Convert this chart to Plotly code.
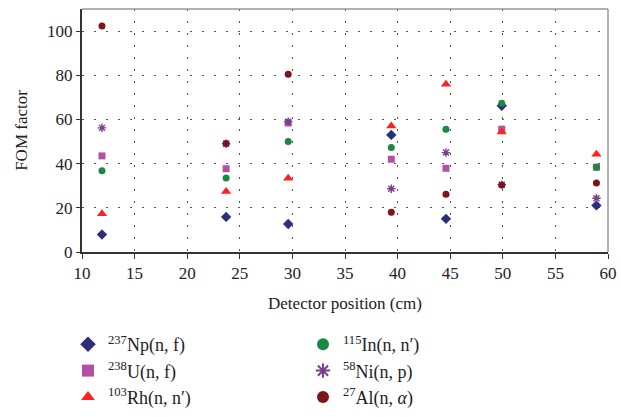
import plotly.graph_objects as go

positions = [11.9, 23.7, 29.6, 39.4, 44.6, 49.9, 58.9]

np237 = [7.9, 15.9, 12.7, 53.0, 15.0, 66.2, 21.1]
u238 = [43.5, 37.7, 58.4, 42.0, 37.9, 55.6, 38.4]
rh103 = [17.3, 27.4, 33.4, 57.0, 75.9, 54.3, 44.3]
in115 = [36.8, 33.5, 50.0, 47.3, 55.6, 67.3, 38.4]
ni58 = [56.2, 49.0, 59.0, 28.6, 45.0, 30.5, 24.3]
al27 = [102.3, 49.1, 80.5, 18.0, 26.1, 30.3, 31.2]

series = [
    ("<sup>237</sup>Np(n, f)", np237, "diamond", "#2B2F7A", 8, "legend"),
    ("<sup>238</sup>U(n, f)", u238, "square", "#B450A4", 7, "legend"),
    ("<sup>103</sup>Rh(n, n\u2032)", rh103, "triangle-up", "#FF2020", 9, "legend"),
    ("<sup>115</sup>In(n, n\u2032)", in115, "circle", "#1B8744", 7, "legend2"),
    ("<sup>58</sup>Ni(n, p)", ni58, "asterisk-open", "#7A3D8D", 7, "legend2"),
    ("<sup>27</sup>Al(n, <i>\u03b1</i>)", al27, "circle", "#7D1418", 7, "legend2"),
]

fig = go.Figure()
for name, vals, sym, col, size, leg in series:
    marker = dict(symbol=sym, color=col, size=size)
    if sym == "asterisk-open":
        marker["line"] = dict(color=col, width=1.4)
    else:
        marker["line"] = dict(width=0)
    fig.add_trace(go.Scatter(x=positions, y=vals, mode="markers", name=name,
                             marker=marker, legend=leg))

font_family = "Liberation Serif"
plot_h = 417 - 9 - 165
plot_w = 621 - 82 - 13
leg_y = -(326 - 252) / plot_h
leg_common = dict(xanchor="left", yanchor="top", y=leg_y,
                  font=dict(size=18, family=font_family), tracegroupgap=0,
                  itemsizing="constant", bgcolor="rgba(0,0,0,0)")
fig.update_layout(
    width=621, height=417,
    margin=dict(l=82, r=13, t=9, b=165, autoexpand=False),
    paper_bgcolor="white", plot_bgcolor="white",
    font=dict(family=font_family, size=16, color="#222"),
    showlegend=True,
    legend=dict(x=(68 - 82) / plot_w, **leg_common),
    legend2=dict(x=(303 - 82) / plot_w, **leg_common),
    xaxis=dict(range=[10, 60], dtick=5, tick0=10,
               showline=True, linecolor="#333", linewidth=2,
               ticks="outside", ticklen=5, tickcolor="#333",
               showgrid=True, gridcolor="#555", gridwidth=1.3, griddash="2px,10px",
               zeroline=False,
               title=dict(text="Detector position (cm)",
                          font=dict(size=17, family=font_family)),
               tickfont=dict(size=17, family=font_family)),
    yaxis=dict(range=[0, 110], tickvals=[0, 20, 40, 60, 80, 100],
               showline=True, linecolor="#333", linewidth=2,
               ticks="outside", ticklen=4, tickcolor="#333",
               showgrid=True, gridcolor="#555", gridwidth=1.3, griddash="2px,10px",
               zeroline=False,
               title=dict(text="FOM factor",
                          font=dict(size=17, family=font_family)),
               tickfont=dict(size=17, family=font_family)),
    shapes=[
        dict(type="line", xref="x domain", yref="y domain", x0=0, x1=1, y0=1, y1=1,
             line=dict(color="#999", width=1.5)),
        dict(type="line", xref="x domain", yref="y domain", x0=1, x1=1, y0=0, y1=1,
             line=dict(color="#999", width=1.5)),
    ],
)

fig.write_html("out.html")
